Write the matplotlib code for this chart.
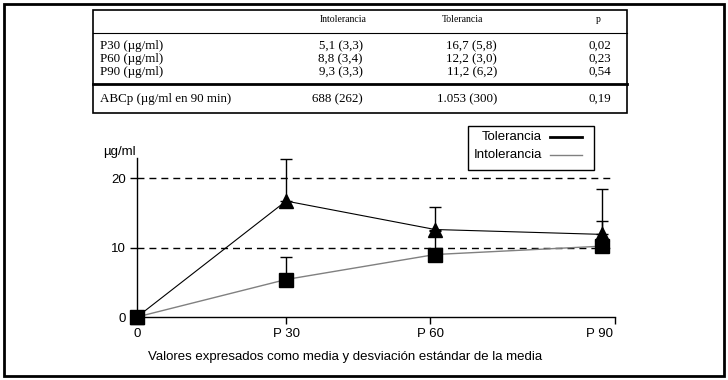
import matplotlib
matplotlib.use("Agg")
import matplotlib.pyplot as plt
import matplotlib.patches as mpatches
from matplotlib.lines import Line2D
from matplotlib.transforms import ScaledTranslation

# table data
col_headers = ["Intolerancia", "Tolerancia", "p"]
row_labels = ["P30 (µg/ml)", "P60 (µg/ml)", "P90 (µg/ml)"]
intol_cells = ["5,1 (3,3)", "8,8 (3,4)", "9,3 (3,3)"]
tol_cells = ["16,7 (5,8)", "12,2 (3,0)", "11,2 (6,2)"]
p_cells = ["0,02", "0,23", "0,54"]
abc_row = ["ABCp (µg/ml en 90 min)", "688 (262)", "1.053 (300)", "0,19"]

# chart data
x_labels = ["0", "P 30", "P 60", "P 90"]
x_ticks = [0, 30, 59, 96.2]
x_pos = [0, 30, 60, 93.5]
tol_mean = [0, 16.7, 12.6, 11.9]
tol_sd = [0, 6.0, 3.3, 6.5]
intol_mean = [0, 5.4, 9.0, 10.2]
intol_sd = [0, 3.3, 3.4, 3.6]

W, H = 728, 380
serif = "Liberation Serif"
sans = "Liberation Sans"


def fx(x):
    return x / W


def fy(y):
    return 1 - y / H


def hline(fig, x0, x1, y, lw=1.0, color="black"):
    fig.add_artist(Line2D([fx(x0), fx(x1)], [fy(y), fy(y)], transform=fig.transFigure,
                          color=color, lw=lw))


fig = plt.figure(figsize=(W / 100, H / 100), dpi=100)

# outer border
fig.add_artist(mpatches.Rectangle((fx(4), fy(376)), fx(720), 372 / H, transform=fig.transFigure,
                                  fill=False, edgecolor="black", lw=2))

# table
fig.add_artist(mpatches.Rectangle((fx(93), fy(113)), fx(627 - 93), 103 / H, transform=fig.transFigure,
                                  fill=False, edgecolor="black", lw=1.2))
hline(fig, 93, 627, 33, lw=0.8)
hline(fig, 93, 627, 84, lw=2)

tfs = 9.4
head_x = [343, 463, 598]
for x, t in zip(head_x, col_headers):
    fig.text(fx(x), fy(20), t, ha="center", va="center", family=serif, fontsize=7)

row_y = [46, 59, 72]
for y, lab, a, b, c in zip(row_y, row_labels, intol_cells, tol_cells, p_cells):
    fig.text(fx(100), fy(y), lab, ha="left", va="center", family=serif, fontsize=tfs)
    fig.text(fx(363), fy(y), a, ha="right", va="center", family=serif, fontsize=tfs)
    fig.text(fx(497), fy(y), b, ha="right", va="center", family=serif, fontsize=tfs)
    fig.text(fx(611), fy(y), c, ha="right", va="center", family=serif, fontsize=tfs)

fig.text(fx(100), fy(99), abc_row[0], ha="left", va="center", family=serif, fontsize=tfs)
fig.text(fx(363), fy(99), abc_row[1], ha="right", va="center", family=serif, fontsize=tfs)
fig.text(fx(497), fy(99), abc_row[2], ha="right", va="center", family=serif, fontsize=tfs)
fig.text(fx(611), fy(99), abc_row[3], ha="right", va="center", family=serif, fontsize=tfs)

# chart
ax = fig.add_axes([fx(137), fy(317), fx(615 - 137), (317 - 158) / H])
ax.set_xlim(0, 96.2)
ax.set_ylim(0, 22.9)

for v in [10, 20]:
    ax.axhline(v, color="black", lw=1, dashes=(5, 3.6), zorder=1)

ax.plot(x_pos, intol_mean, color="#808080", lw=1, zorder=2)
ax.plot(x_pos, tol_mean, color="black", lw=0.8, zorder=2)

ax.errorbar(x_pos, intol_mean, yerr=[[0] * 4, intol_sd], fmt="none", ecolor="black",
            elinewidth=1, capsize=4, capthick=1, zorder=3)
ax.errorbar(x_pos, tol_mean, yerr=[[0] * 4, tol_sd], fmt="none", ecolor="black",
            elinewidth=1, capsize=4, capthick=1, zorder=3)

ax.plot(x_pos, tol_mean, "^", color="black", ms=10.5, zorder=4, clip_on=False)
ax.plot(x_pos, intol_mean, "s", color="black", ms=9.5, zorder=5, clip_on=False)

for s in ["top", "right"]:
    ax.spines[s].set_visible(False)
for s in ["left", "bottom"]:
    ax.spines[s].set_linewidth(1)
    ax.spines[s].set_zorder(0.5)

ax.set_yticks([0, 10, 20])
ax.set_xticks(x_ticks)
ax.set_xticklabels(x_labels)
ax.tick_params(direction="out", length=5, width=1, labelsize=9.5, pad=3)
for t in ax.get_xticklabels() + ax.get_yticklabels():
    t.set_family(sans)
last = ax.get_xticklabels()[-1]
last.set_transform(last.get_transform() + ScaledTranslation(-15 / 100, 0, fig.dpi_scale_trans))

fig.text(fx(119), fy(152), "µg/ml", ha="center", va="center", family=sans, fontsize=9.5)
fig.text(fx(345), fy(357), "Valores expresados como media y desviación estándar de la media",
         ha="center", va="center", family=sans, fontsize=9.5)

# legend box
fig.add_artist(mpatches.Rectangle((fx(468), fy(170)), fx(594 - 468), 44 / H, transform=fig.transFigure,
                                  fill=False, edgecolor="black", lw=1))
fig.text(fx(542), fy(137), "Tolerancia", ha="right", va="center", family=sans, fontsize=9.5)
fig.text(fx(542), fy(155), "Intolerancia", ha="right", va="center", family=sans, fontsize=9.5)
hline(fig, 550, 582, 137, lw=2)
hline(fig, 550, 582, 155, lw=1, color="#808080")

fig.savefig("out.png", dpi=100)
